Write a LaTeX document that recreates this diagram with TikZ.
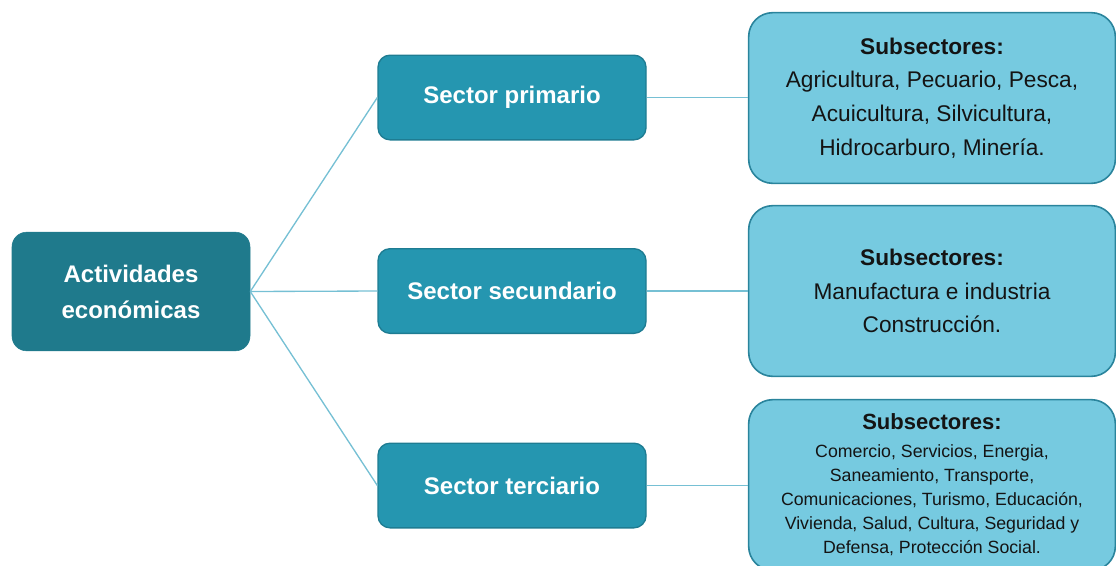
\documentclass[tikz,border=0pt]{standalone}
\usepackage{fontspec}
\setmainfont{Liberation Sans}
\usetikzlibrary{positioning}
\definecolor{rootfill}{RGB}{31,122,140}
\definecolor{secfill}{RGB}{37,150,176}
\definecolor{secdraw}{RGB}{30,124,146}
\definecolor{subfill}{RGB}{118,202,224}
\definecolor{subdraw}{RGB}{42,132,156}
\definecolor{link}{RGB}{118,192,212}
\definecolor{subtext}{RGB}{20,20,20}
\tikzset{rootbox/.style = {draw = rootfill, fill = rootfill, rounded corners = 11pt, align = center,
    text = white, font = \fontsize{18}{27}\selectfont\bfseries, minimum width = 178.5pt, minimum height = 89pt, inner sep = 0}}
\tikzset{secbox/.style = {draw = secdraw, line width = 1pt, fill = secfill, rounded corners = 9pt, align = center,
    text = white, font = \fontsize{18}{24}\selectfont\bfseries, minimum width = 201pt, minimum height = 63.5pt, inner sep = 0}}
\tikzset{subbox/.style = {draw = subdraw, line width = 1.2pt, fill = subfill, rounded corners = 18pt, align = center,
    text = subtext, font = \fontsize{17}{25.2}\selectfont, minimum width = 275pt, minimum height = 128pt, inner sep = 0}}
\tikzset{link/.style = {draw = link, line width = 1pt}}

\begin{document}
\begin{tikzpicture}[x = 0.75pt, y = -0.75pt]
    \useasboundingbox (0, 0) rectangle (1116, 565);

    \node [rootbox] (act) at (131, 291.5) {Actividades\\económicas};

    \node [secbox] (prim) at (512, 97.5) {Sector primario};
    \node [secbox] (secu) at (512, 291) {Sector secundario};
    \node [secbox] (terc) at (512, 485.5) {Sector terciario};

    \node [subbox] (subprim) at (932, 98) {\textbf{Subsectores:}\\Agricultura, Pecuario, Pesca,\\Acuicultura, Silvicultura,\\Hidrocarburo, Minería.};
    \node [subbox] (subsecu) at (932, 291) {\textbf{Subsectores:}\\Manufactura e industria\\Construcción.};
    \node [subbox, font = \fontsize{13.3}{18}\selectfont] (subterc) at (932, 485)
        {{\fontsize{16.5}{18}\selectfont\textbf{Subsectores:}}\\[3pt]Comercio, Servicios, Energia,\\Saneamiento, Transporte,\\Comunicaciones, Turismo, Educación,\\Vivienda, Salud, Cultura, Seguridad y\\Defensa, Protección Social.};

    \draw [link] (act.east) -- (prim.west);
    \draw [link] (act.east) -- (secu.west);
    \draw [link] (act.east) -- (terc.west);

    \draw [link] (prim.east) -- (subprim.west |- prim.east);
    \draw [link] (secu.east) -- (subsecu.west |- secu.east);
    \draw [link] (terc.east) -- (subterc.west |- terc.east);
\end{tikzpicture}
\end{document}
